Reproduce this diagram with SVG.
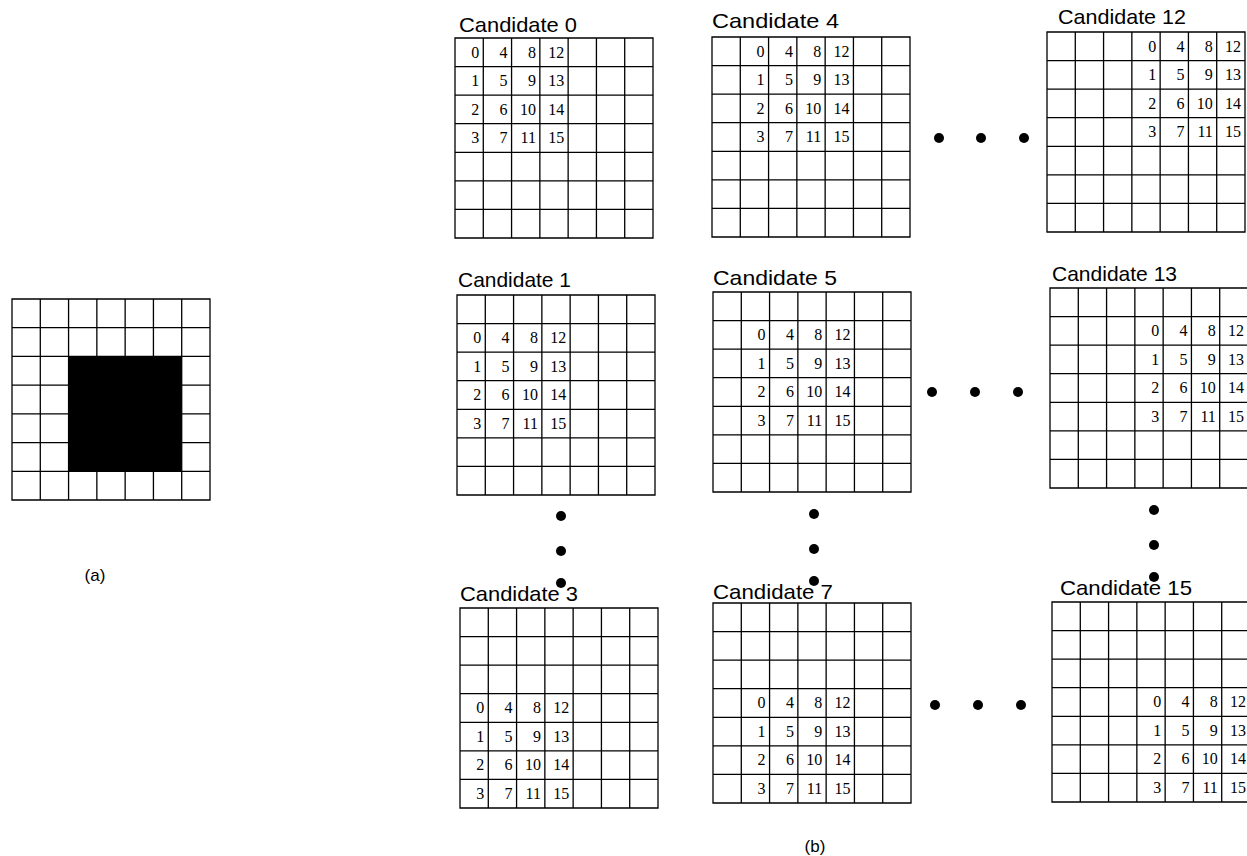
<svg xmlns="http://www.w3.org/2000/svg" xmlns:xlink="http://www.w3.org/1999/xlink" width="1247" height="856" viewBox="0 0 1247 856">
<style>
.grid{fill:none;stroke:#000;stroke-width:1.3}
.title{font-family:"Liberation Sans",Arial,sans-serif;font-size:21px;fill:#000}
.num{font-family:"Liberation Serif","Times New Roman",serif;font-size:16px;fill:#000;text-anchor:end}
.lbl{font-family:"Liberation Sans",Arial,sans-serif;font-size:17px;fill:#000;text-anchor:middle}
.dot{fill:#000}
</style>
<defs>
<path id="g7" class="grid" d="M0,0H198V200H0Z M28.29,0V200 M56.57,0V200 M84.86,0V200 M113.14,0V200 M141.43,0V200 M169.71,0V200 M0,28.57H198 M0,57.14H198 M0,85.71H198 M0,114.29H198 M0,142.86H198 M0,171.43H198"/>
</defs>
<rect width="1247" height="856" fill="#fff"/>

<g id="panel-a">
<rect x="68.6" y="356.4" width="113.1" height="114.6" fill="#000"/>
<use xlink:href="#g7" href="#g7" transform="translate(12,299) scale(1,1.005)"/>
<text class="lbl" x="95" y="581">(a)</text>
</g>

<g id="cand0">
<text class="title" x="459" y="32" textLength="118" lengthAdjust="spacingAndGlyphs">Candidate 0</text>
<use href="#g7" xlink:href="#g7" transform="translate(455,38)"/>
<g transform="translate(455,38)">
<text class="num" x="24.3" y="19.5">0</text><text class="num" x="24.3" y="48.1">1</text><text class="num" x="24.3" y="76.6">2</text><text class="num" x="24.3" y="105.2">3</text>
<text class="num" x="52.6" y="19.5">4</text><text class="num" x="52.6" y="48.1">5</text><text class="num" x="52.6" y="76.6">6</text><text class="num" x="52.6" y="105.2">7</text>
<text class="num" x="80.9" y="19.5">8</text><text class="num" x="80.9" y="48.1">9</text><text class="num" x="80.9" y="76.6">10</text><text class="num" x="80.9" y="105.2">11</text>
<text class="num" x="109.2" y="19.5">12</text><text class="num" x="109.2" y="48.1">13</text><text class="num" x="109.2" y="76.6">14</text><text class="num" x="109.2" y="105.2">15</text>
</g>
</g>

<g id="cand4">
<text class="title" x="712" y="28" textLength="127" lengthAdjust="spacingAndGlyphs">Candidate 4</text>
<use href="#g7" xlink:href="#g7" transform="translate(712,37)"/>
<g transform="translate(740.3,37)">
<text class="num" x="24.3" y="19.5">0</text><text class="num" x="24.3" y="48.1">1</text><text class="num" x="24.3" y="76.6">2</text><text class="num" x="24.3" y="105.2">3</text>
<text class="num" x="52.6" y="19.5">4</text><text class="num" x="52.6" y="48.1">5</text><text class="num" x="52.6" y="76.6">6</text><text class="num" x="52.6" y="105.2">7</text>
<text class="num" x="80.9" y="19.5">8</text><text class="num" x="80.9" y="48.1">9</text><text class="num" x="80.9" y="76.6">10</text><text class="num" x="80.9" y="105.2">11</text>
<text class="num" x="109.2" y="19.5">12</text><text class="num" x="109.2" y="48.1">13</text><text class="num" x="109.2" y="76.6">14</text><text class="num" x="109.2" y="105.2">15</text>
</g>
</g>

<g id="cand12">
<text class="title" x="1058" y="24" textLength="128" lengthAdjust="spacingAndGlyphs">Candidate 12</text>
<use href="#g7" xlink:href="#g7" transform="translate(1047,32)"/>
<g transform="translate(1131.9,32)">
<text class="num" x="24.3" y="19.5">0</text><text class="num" x="24.3" y="48.1">1</text><text class="num" x="24.3" y="76.6">2</text><text class="num" x="24.3" y="105.2">3</text>
<text class="num" x="52.6" y="19.5">4</text><text class="num" x="52.6" y="48.1">5</text><text class="num" x="52.6" y="76.6">6</text><text class="num" x="52.6" y="105.2">7</text>
<text class="num" x="80.9" y="19.5">8</text><text class="num" x="80.9" y="48.1">9</text><text class="num" x="80.9" y="76.6">10</text><text class="num" x="80.9" y="105.2">11</text>
<text class="num" x="109.2" y="19.5">12</text><text class="num" x="109.2" y="48.1">13</text><text class="num" x="109.2" y="76.6">14</text><text class="num" x="109.2" y="105.2">15</text>
</g>
</g>

<g id="cand1">
<text class="title" x="458" y="287" textLength="113" lengthAdjust="spacingAndGlyphs">Candidate 1</text>
<use href="#g7" xlink:href="#g7" transform="translate(457,295)"/>
<g transform="translate(457,323.6)">
<text class="num" x="24.3" y="19.5">0</text><text class="num" x="24.3" y="48.1">1</text><text class="num" x="24.3" y="76.6">2</text><text class="num" x="24.3" y="105.2">3</text>
<text class="num" x="52.6" y="19.5">4</text><text class="num" x="52.6" y="48.1">5</text><text class="num" x="52.6" y="76.6">6</text><text class="num" x="52.6" y="105.2">7</text>
<text class="num" x="80.9" y="19.5">8</text><text class="num" x="80.9" y="48.1">9</text><text class="num" x="80.9" y="76.6">10</text><text class="num" x="80.9" y="105.2">11</text>
<text class="num" x="109.2" y="19.5">12</text><text class="num" x="109.2" y="48.1">13</text><text class="num" x="109.2" y="76.6">14</text><text class="num" x="109.2" y="105.2">15</text>
</g>
</g>

<g id="cand5">
<text class="title" x="713" y="285" textLength="124" lengthAdjust="spacingAndGlyphs">Candidate 5</text>
<use href="#g7" xlink:href="#g7" transform="translate(713,292)"/>
<g transform="translate(741.3,320.6)">
<text class="num" x="24.3" y="19.5">0</text><text class="num" x="24.3" y="48.1">1</text><text class="num" x="24.3" y="76.6">2</text><text class="num" x="24.3" y="105.2">3</text>
<text class="num" x="52.6" y="19.5">4</text><text class="num" x="52.6" y="48.1">5</text><text class="num" x="52.6" y="76.6">6</text><text class="num" x="52.6" y="105.2">7</text>
<text class="num" x="80.9" y="19.5">8</text><text class="num" x="80.9" y="48.1">9</text><text class="num" x="80.9" y="76.6">10</text><text class="num" x="80.9" y="105.2">11</text>
<text class="num" x="109.2" y="19.5">12</text><text class="num" x="109.2" y="48.1">13</text><text class="num" x="109.2" y="76.6">14</text><text class="num" x="109.2" y="105.2">15</text>
</g>
</g>

<g id="cand13">
<text class="title" x="1052" y="281" textLength="125" lengthAdjust="spacingAndGlyphs">Candidate 13</text>
<use href="#g7" xlink:href="#g7" transform="translate(1050,288)"/>
<g transform="translate(1134.9,316.6)">
<text class="num" x="24.3" y="19.5">0</text><text class="num" x="24.3" y="48.1">1</text><text class="num" x="24.3" y="76.6">2</text><text class="num" x="24.3" y="105.2">3</text>
<text class="num" x="52.6" y="19.5">4</text><text class="num" x="52.6" y="48.1">5</text><text class="num" x="52.6" y="76.6">6</text><text class="num" x="52.6" y="105.2">7</text>
<text class="num" x="80.9" y="19.5">8</text><text class="num" x="80.9" y="48.1">9</text><text class="num" x="80.9" y="76.6">10</text><text class="num" x="80.9" y="105.2">11</text>
<text class="num" x="109.2" y="19.5">12</text><text class="num" x="109.2" y="48.1">13</text><text class="num" x="109.2" y="76.6">14</text><text class="num" x="109.2" y="105.2">15</text>
</g>
</g>

<g id="cand3">
<text class="title" x="460" y="601" textLength="118" lengthAdjust="spacingAndGlyphs">Candidate 3</text>
<use href="#g7" xlink:href="#g7" transform="translate(460,608)"/>
<g transform="translate(460,693.7)">
<text class="num" x="24.3" y="19.5">0</text><text class="num" x="24.3" y="48.1">1</text><text class="num" x="24.3" y="76.6">2</text><text class="num" x="24.3" y="105.2">3</text>
<text class="num" x="52.6" y="19.5">4</text><text class="num" x="52.6" y="48.1">5</text><text class="num" x="52.6" y="76.6">6</text><text class="num" x="52.6" y="105.2">7</text>
<text class="num" x="80.9" y="19.5">8</text><text class="num" x="80.9" y="48.1">9</text><text class="num" x="80.9" y="76.6">10</text><text class="num" x="80.9" y="105.2">11</text>
<text class="num" x="109.2" y="19.5">12</text><text class="num" x="109.2" y="48.1">13</text><text class="num" x="109.2" y="76.6">14</text><text class="num" x="109.2" y="105.2">15</text>
</g>
</g>

<g id="cand7">
<text class="title" x="713" y="599" textLength="120" lengthAdjust="spacingAndGlyphs">Candidate 7</text>
<use href="#g7" xlink:href="#g7" transform="translate(713,603)"/>
<g transform="translate(741.3,688.7)">
<text class="num" x="24.3" y="19.5">0</text><text class="num" x="24.3" y="48.1">1</text><text class="num" x="24.3" y="76.6">2</text><text class="num" x="24.3" y="105.2">3</text>
<text class="num" x="52.6" y="19.5">4</text><text class="num" x="52.6" y="48.1">5</text><text class="num" x="52.6" y="76.6">6</text><text class="num" x="52.6" y="105.2">7</text>
<text class="num" x="80.9" y="19.5">8</text><text class="num" x="80.9" y="48.1">9</text><text class="num" x="80.9" y="76.6">10</text><text class="num" x="80.9" y="105.2">11</text>
<text class="num" x="109.2" y="19.5">12</text><text class="num" x="109.2" y="48.1">13</text><text class="num" x="109.2" y="76.6">14</text><text class="num" x="109.2" y="105.2">15</text>
</g>
</g>

<g id="cand15">
<text class="title" x="1060" y="595" textLength="132" lengthAdjust="spacingAndGlyphs">Candidate 15</text>
<use href="#g7" xlink:href="#g7" transform="translate(1052,602)"/>
<g transform="translate(1136.9,687.7)">
<text class="num" x="24.3" y="19.5">0</text><text class="num" x="24.3" y="48.1">1</text><text class="num" x="24.3" y="76.6">2</text><text class="num" x="24.3" y="105.2">3</text>
<text class="num" x="52.6" y="19.5">4</text><text class="num" x="52.6" y="48.1">5</text><text class="num" x="52.6" y="76.6">6</text><text class="num" x="52.6" y="105.2">7</text>
<text class="num" x="80.9" y="19.5">8</text><text class="num" x="80.9" y="48.1">9</text><text class="num" x="80.9" y="76.6">10</text><text class="num" x="80.9" y="105.2">11</text>
<text class="num" x="109.2" y="19.5">12</text><text class="num" x="109.2" y="48.1">13</text><text class="num" x="109.2" y="76.6">14</text><text class="num" x="109.2" y="105.2">15</text>
</g>
</g>

<g id="ellipses">
<circle class="dot" cx="939" cy="138" r="5"/><circle class="dot" cx="981" cy="138" r="5"/><circle class="dot" cx="1024" cy="138" r="5"/>
<circle class="dot" cx="932" cy="392" r="5"/><circle class="dot" cx="975" cy="392" r="5"/><circle class="dot" cx="1018" cy="392" r="5"/>
<circle class="dot" cx="935" cy="705" r="5"/><circle class="dot" cx="978" cy="705" r="5"/><circle class="dot" cx="1021" cy="705" r="5"/>
<circle class="dot" cx="561" cy="516" r="5"/><circle class="dot" cx="561" cy="551" r="5"/><circle class="dot" cx="561" cy="583" r="5"/>
<circle class="dot" cx="814" cy="514" r="5"/><circle class="dot" cx="814" cy="549" r="5"/><circle class="dot" cx="814" cy="581" r="5"/>
<circle class="dot" cx="1154" cy="510" r="5"/><circle class="dot" cx="1154" cy="545" r="5"/><circle class="dot" cx="1154" cy="577" r="5"/>
</g>

<text class="lbl" x="815" y="852">(b)</text>
</svg>
